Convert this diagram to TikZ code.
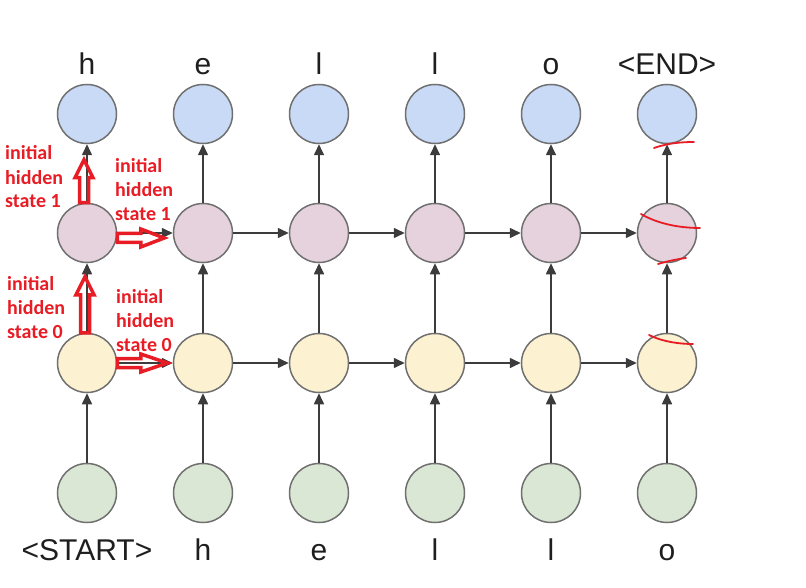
\documentclass[tikz,border=0pt]{standalone}
\usepackage{fontspec}
\setmainfont{Liberation Sans}
\newfontfamily\annfont{Carlito}
\usetikzlibrary{arrows.meta}
\definecolor{cblue}{RGB}{201,218,246}
\definecolor{cpurp}{RGB}{229,210,221}
\definecolor{cyell}{RGB}{252,241,208}
\definecolor{cgreen}{RGB}{218,231,212}
\definecolor{cbord}{RGB}{112,112,112}
\definecolor{annred}{RGB}{232,28,36}
\definecolor{lab}{RGB}{30,30,30}
\definecolor{lin}{RGB}{60,60,60}
\begin{document}
\begin{tikzpicture}[x=1pt,y=-1pt,
  cell/.style={circle, draw=cbord, line width=1.5pt, minimum size=59pt, inner sep=0pt},
  conn/.style={draw=lin, line width=1.6pt, -{Triangle[length=11pt,width=10pt]}},
  lbl/.style={font=\fontsize{30}{36}\selectfont, text=lab, anchor=base, inner sep=0pt},
  ann/.style={font=\annfont\bfseries\fontsize{20}{24}\selectfont, text=annred, align=left, anchor=base west, inner sep=0pt},
  hollow/.style={draw=annred, line width=3.5pt, line join=miter},
  scribble/.style={draw=annred, line width=1.8pt, line cap=round}]
\path[use as bounding box] (0,0) rectangle (806,588);

\foreach \i in {0,...,5} {
  \pgfmathsetmacro{\xx}{87+116*\i}
  \node[cell, fill=cblue]  (o\i) at (\xx,114) {};
  \node[cell, fill=cpurp]  (h\i) at (\xx,233) {};
  \node[cell, fill=cyell]  (y\i) at (\xx,363) {};
  \node[cell, fill=cgreen] (x\i) at (\xx,493) {};
}

% labels
\foreach \i/\t in {0/h,1/e,2/l,3/l,4/o,5/{<END>}} {
  \pgfmathsetmacro{\xx}{87+116*\i}
  \node[lbl] (top\i) at (\xx,75) {\t};
}
\foreach \i/\t in {0/{<START>},1/h,2/e,3/l,4/l,5/o} {
  \pgfmathsetmacro{\xx}{87+116*\i}
  \node[lbl] (bot\i) at (\xx,560) {\t};
}

% vertical connectors
\foreach \i in {0,...,5} {
  \draw[conn] (x\i) -- (y\i);
  \draw[conn] (y\i) -- (h\i);
  \draw[conn] (h\i) -- (o\i);
}
% horizontal connectors
\foreach \i/\j in {0/1,1/2,2/3,3/4,4/5} {
  \draw[conn] (y\i) -- (y\j);
  \draw[conn] (h\i) -- (h\j);
}

% red hollow arrows
\begin{scope}[shift={(h0.north)}]
  \draw[hollow] (-7.5,0) -- (-7.5,-25) -- (-12,-25) -- (-3,-43) -- (6,-25) -- (1.5,-25) -- (1.5,0) -- cycle;
\end{scope}
\begin{scope}[shift={(y0.north)}]
  \draw[hollow] (-6.5,0) -- (-6.5,-38) -- (-11,-38) -- (-2,-56) -- (7,-38) -- (2.5,-38) -- (2.5,0) -- cycle;
\end{scope}
\begin{scope}[shift={(h0.east)}]
  \draw[hollow] (0,0.5) -- (23.5,0.5) -- (23.5,-4) -- (47,5) -- (23.5,14) -- (23.5,9.5) -- (0,9.5) -- cycle;
\end{scope}
\begin{scope}[shift={(y0.east)}]
  \draw[hollow] (0,-4.5) -- (23.5,-4.5) -- (23.5,-9) -- (50,0) -- (23.5,9) -- (23.5,4.5) -- (0,4.5) -- cycle;
\end{scope}

% red annotations (base anchor = baseline of last line)
\node[ann] (a1) at (5,208) {initial\\hidden\\state 1};
\node[ann] (a2) at (115,221) {initial\\hidden\\state 1};
\node[ann] (a3) at (7,338) {initial\\hidden\\state 0};
\node[ann] (a4) at (116,351) {initial\\hidden\\state 0};

% red scribbles on last column
\draw[scribble] (654,148) .. controls (668,143) and (682,142) .. (694,142);
\draw[scribble] (641,214) .. controls (658,224) and (680,228) .. (700,228);
\draw[scribble] (658,264) .. controls (668,261) and (678,259) .. (686,258);
\draw[scribble] (649,335) .. controls (663,342) and (680,344) .. (693,344);
\end{tikzpicture}
\end{document}
